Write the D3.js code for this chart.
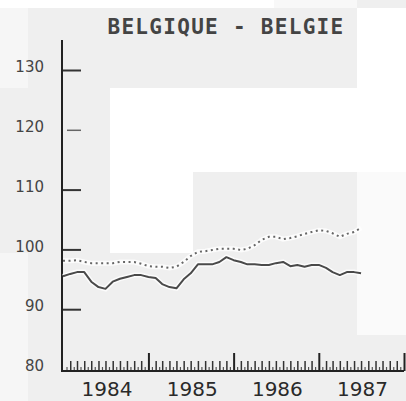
<!DOCTYPE html>
<html>
<head>
<meta charset="utf-8">
<script src="https://cdn.jsdelivr.net/npm/d3@7"></script>
<style>
  html, body { margin: 0; padding: 0; background: #efefef; }
  svg { display: block; }
</style>
</head>
<body>
<svg id="chart" width="406" height="401"></svg>
<script>
// ---- data ----
const title = "BELGIQUE - BELGIE";
const startYear = 1984;
const startMonth = 0; // January 1984, monthly observations
const solidSeries = [95.5, 95.9, 96.2, 96.2, 94.6, 93.7, 93.4, 94.6, 95.1, 95.4, 95.7, 95.7, 95.4, 95.2, 94.2, 93.7, 93.5, 95.0, 96.0, 97.5, 97.5, 97.5, 97.9, 98.7, 98.2, 97.9, 97.5, 97.5, 97.4, 97.4, 97.7, 97.9, 97.2, 97.4, 97.1, 97.4, 97.4, 96.9, 96.2, 95.7, 96.2, 96.2, 96.0];
const dottedSeries = [98.1, 98.1, 98.2, 97.9, 97.7, 97.7, 97.7, 97.7, 97.9, 97.9, 97.9, 97.6, 97.2, 97.1, 97.1, 96.9, 97.1, 97.9, 98.9, 99.6, 99.7, 99.9, 100.1, 100.1, 100.1, 99.9, 100.1, 100.7, 101.6, 102.1, 102.1, 101.7, 101.9, 102.2, 102.6, 102.9, 103.2, 103.1, 102.7, 102.1, 102.6, 102.9, 103.6];
const yTicks = [80, 90, 100, 110, 120, 130];
const yearLabels = ["1984", "1985", "1986", "1987"];

// ---- layout (decoration of the scanned page) ----
const bgPatches = [
  {x: 0, y: 0, w: 274, h: 8, c: "#ffffff"},
  {x: 274, y: 0, w: 83, h: 8, c: "#f8f8f8"},
  {x: 0, y: 8, w: 28, h: 80, c: "#f6f6f6"},
  {x: 110, y: 88, w: 247, h: 84, c: "#ffffff"},
  {x: 357, y: 8, w: 49, h: 164, c: "#ffffff"},
  {x: 110, y: 172, w: 83, h: 81, c: "#ffffff"},
  {x: 357, y: 172, w: 49, h: 163, c: "#fafafa"},
  {x: 0, y: 253, w: 28, h: 148, c: "#f6f6f6"}
];

const svg = d3.select("#chart");
svg.selectAll("rect.bg").data(bgPatches).join("rect")
  .attr("class", "bg")
  .attr("x", d => d.x).attr("y", d => d.y)
  .attr("width", d => d.w).attr("height", d => d.h)
  .attr("fill", d => d.c);

const x = d3.scaleTime()
  .domain([new Date(startYear, 0, 1), new Date(startYear + 4, 0, 1)])
  .range([63, 404]);
const y = d3.scaleLinear().domain([80, 130]).range([369, 70]);

const dateOf = i => new Date(startYear, startMonth + i, 1);
const axisY = y(80) + 2;

// title
svg.append("text")
  .attr("x", 226).attr("y", 34)
  .attr("text-anchor", "middle")
  .attr("font-family", "'DejaVu Sans Mono', 'Liberation Mono', monospace")
  .attr("font-weight", "bold")
  .attr("font-size", 21)
  .attr("letter-spacing", 1.3)
  .attr("fill", "#444")
  .text(title);

// y axis
const yAxis = d3.axisRight(y).tickValues(yTicks.filter(v => v > 80)).tickSize(18).tickFormat("");
const gy = svg.append("g").attr("transform", "translate(63,0)").call(yAxis);
gy.select(".domain").remove();
gy.selectAll(".tick line").attr("stroke", "#333").attr("stroke-width", 2);
gy.selectAll(".tick").filter(d => d === 120).select("line")
  .attr("x1", 4).attr("stroke", "#666").attr("stroke-width", 1.5);

svg.append("line")
  .attr("x1", 62).attr("x2", 62).attr("y1", 40).attr("y2", axisY + 1)
  .attr("stroke", "#222").attr("stroke-width", 2);

svg.selectAll("text.ylab").data(yTicks).join("text")
  .attr("class", "ylab")
  .attr("x", 44).attr("y", d => y(d) - 3)
  .attr("dy", "0.35em")
  .attr("text-anchor", "end")
  .attr("font-family", "'DejaVu Sans', sans-serif")
  .attr("font-size", 15)
  .attr("fill", "#444")
  .text(d => d);

// x axis ticks
const halfMonths = d3.range(0, 48).map(k => new Date(startYear, k, 16));
const months = d3.timeMonths(new Date(startYear, 0, 1), new Date(startYear + 4, 0, 1)).filter(d => d.getMonth() !== 0);
const years = d3.timeYears(new Date(startYear, 0, 1), new Date(startYear + 4, 0, 2)).slice(1);

function tickAxis(values, size, width, color) {
  const ax = d3.axisTop(x).tickValues(values).tickSize(size).tickFormat("");
  const g = svg.append("g").attr("transform", `translate(0,${axisY})`).call(ax);
  g.select(".domain").remove();
  g.selectAll(".tick line").attr("stroke", color).attr("stroke-width", width);
}
tickAxis(halfMonths, 4, 1.2, "#555");
tickAxis(months, 10, 1.5, "#333");
tickAxis(years, 18, 2, "#222");

svg.append("line")
  .attr("x1", 62).attr("x2", 404).attr("y1", axisY).attr("y2", axisY)
  .attr("stroke", "#222").attr("stroke-width", 2);

svg.selectAll("text.xlab").data(yearLabels).join("text")
  .attr("class", "xlab")
  .attr("x", (d, i) => x(new Date(startYear + i, 6, 1)) + 1.5)
  .attr("y", 396)
  .attr("text-anchor", "middle")
  .attr("font-family", "'DejaVu Sans', sans-serif")
  .attr("font-size", 20)
  .attr("fill", "#2a2a2a")
  .text(d => d);

// lines
const line = d3.line().x((d, i) => x(dateOf(i))).y(d => y(d));

[dottedSeries, solidSeries].forEach(s => {
  svg.append("path").attr("d", line(s)).attr("fill", "none")
    .attr("stroke", "#ffffff").attr("stroke-width", 5).attr("stroke-opacity", 0.8);
});
svg.append("path").attr("d", line(dottedSeries)).attr("fill", "none")
  .attr("stroke", "#666").attr("stroke-width", 2).attr("stroke-dasharray", "2,3.5");
svg.append("path").attr("d", line(solidSeries)).attr("fill", "none")
  .attr("stroke", "#4a4a4a").attr("stroke-width", 2).attr("stroke-linejoin", "round");
</script>
</body>
</html>
